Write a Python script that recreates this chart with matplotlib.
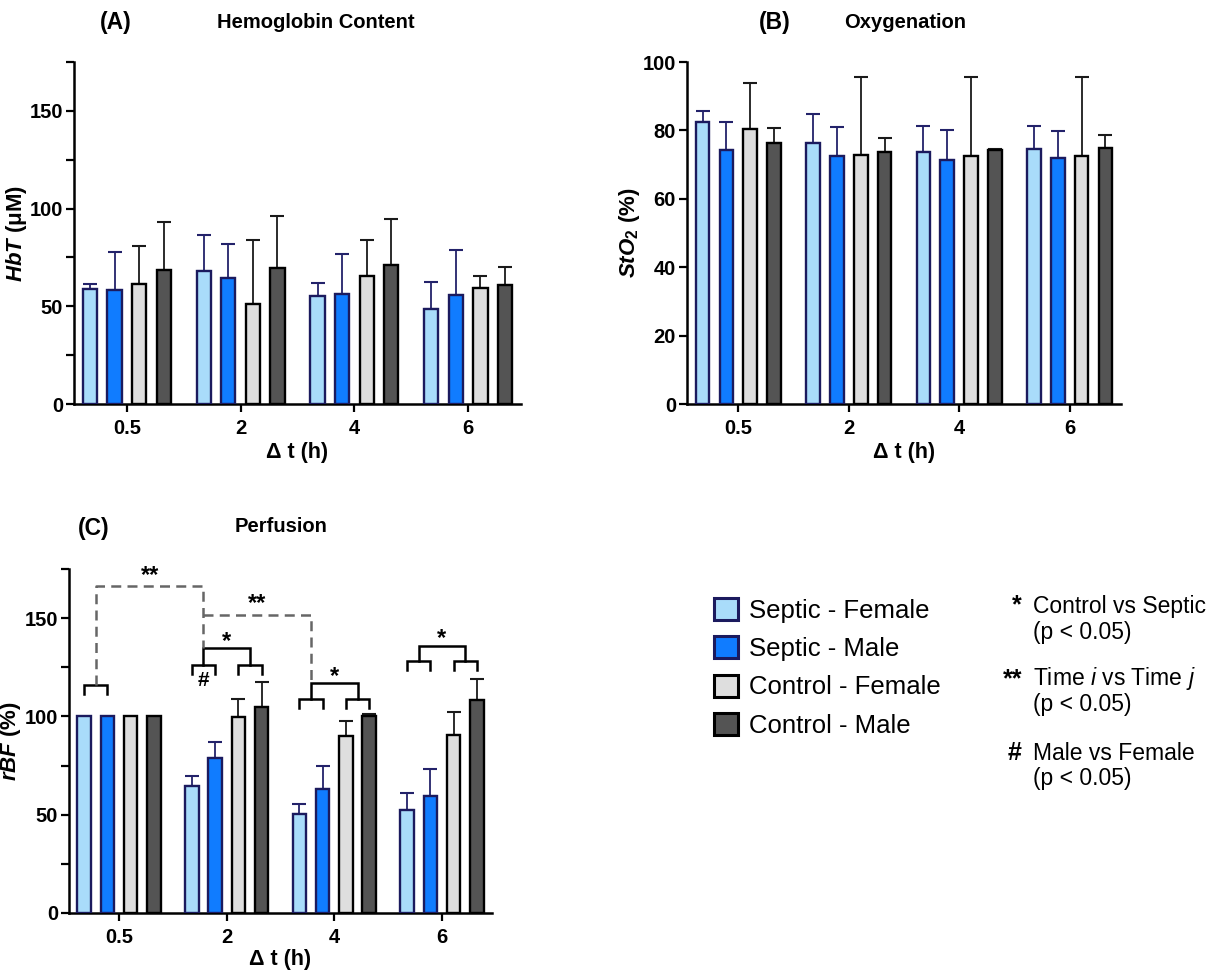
import matplotlib
matplotlib.use("Agg")
import matplotlib.pyplot as plt
from matplotlib.patches import Patch
import numpy as np

# ---------------- data ----------------
timepoints = ["0.5", "2", "4", "6"]
groups = ["Septic - Female", "Septic - Male", "Control - Female", "Control - Male"]

# Panel A: HbT (uM)
hbt_sf = [58.9, 68.3, 55.1, 48.5]
hbt_sm = [58.4, 64.7, 56.5, 55.6]
hbt_cf = [61.3, 51.2, 65.5, 59.2]
hbt_cm = [68.6, 69.8, 71.2, 60.9]
hbt_sf_err = [2.7, 18.2, 7.0, 14.1]
hbt_sm_err = [19.6, 17.0, 20.1, 23.2]
hbt_cf_err = [19.6, 32.8, 18.5, 6.3]
hbt_cm_err = [24.4, 26.6, 23.5, 9.1]

# Panel B: StO2 (%)
sto2_sf = [82.5, 76.4, 73.8, 74.5]
sto2_sm = [74.3, 72.4, 71.4, 72.0]
sto2_cf = [80.5, 72.9, 72.5, 72.6]
sto2_cm = [76.4, 73.8, 74.2, 75.0]
sto2_sf_err = [3.2, 8.3, 7.5, 6.7]
sto2_sm_err = [8.1, 8.5, 8.6, 7.8]
sto2_cf_err = [13.3, 22.8, 23.0, 23.1]
sto2_cm_err = [4.4, 3.9, 0.4, 3.6]

# Panel C: rBF (%)
rbf_sf = [100, 64.7, 50.3, 52.2]
rbf_sm = [100, 78.6, 62.9, 59.3]
rbf_cf = [100, 99.5, 90.2, 90.7]
rbf_cm = [100, 104.9, 100.3, 108.3]
rbf_sf_err = [0, 5.1, 5.1, 8.6]
rbf_sm_err = [0, 8.5, 11.7, 13.9]
rbf_cf_err = [0, 9.3, 7.6, 11.5]
rbf_cm_err = [0, 12.4, 0.9, 10.7]

# ---------------- style ----------------
plt.rcParams['font.family'] = ['Liberation Sans', 'DejaVu Sans']
plt.rcParams['mathtext.fontset'] = 'custom'
plt.rcParams['mathtext.rm'] = 'Liberation Sans'
plt.rcParams['mathtext.it'] = 'Liberation Sans:italic'
plt.rcParams['mathtext.bf'] = 'Liberation Sans:bold:italic'
plt.rcParams['mathtext.sf'] = 'Liberation Sans:bold'

face = ["#A9DCFA", "#107CFF", "#DEDEDE", "#545454"]
edge = ["#1B1A5E", "#1B1A5E", "#000000", "#000000"]
ecol = ["#23226A", "#23226A", "#1a1a1a", "#1a1a1a"]

W, H = 1215, 976
fig = plt.figure(figsize=(W / 100, H / 100), dpi=100)


def rect(l, r, t, b):
    return [l / W, 1 - b / H, (r - l) / W, (b - t) / H]


off = 0.216
bw = 0.125
x = np.arange(len(timepoints))


def draw_panel(ax, vals, errs, ylim, major, minor, ylabel, ylab_x, xlab_y):
    for i in range(4):
        xs = x + (i - 1.5) * off
        ax.bar(xs, vals[i], width=bw, color=face[i], edgecolor=edge[i],
               linewidth=1.7, zorder=3)
        e = np.array(errs[i], dtype=float)
        m = e > 0
        ax.errorbar(xs[m], np.array(vals[i])[m], yerr=[np.zeros(m.sum()), e[m]],
                    fmt='none', ecolor=ecol[i], elinewidth=1.3, capsize=5,
                    capthick=1.5, zorder=2)
    ax.set_xlim(-0.465, 3.465)
    ax.set_ylim(*ylim)
    ax.set_xticks(x)
    ax.set_xticklabels(timepoints)
    ax.set_yticks(major)
    if minor:
        ax.set_yticks(minor, minor=True)
    for s in ['top', 'right']:
        ax.spines[s].set_visible(False)
    for s in ['left', 'bottom']:
        ax.spines[s].set_linewidth(1.8)
    ax.tick_params(axis='both', which='both', width=1.6, length=6,
                   labelsize=14.5, direction='out')
    ax.tick_params(axis='x', pad=5)
    ax.tick_params(axis='y', pad=2)
    for lab in ax.get_xticklabels() + ax.get_yticklabels():
        lab.set_fontweight('bold')
    ax.set_xlabel("Δ t (h)", fontsize=15.5, fontweight='bold')
    ax.xaxis.set_label_coords(0.5, xlab_y)
    ax.set_ylabel(ylabel, fontsize=16, fontweight='bold')
    ax.yaxis.set_label_coords(ylab_x, 0.5)


axA = fig.add_axes(rect(74, 521, 62, 404))
draw_panel(axA, [hbt_sf, hbt_sm, hbt_cf, hbt_cm],
           [hbt_sf_err, hbt_sm_err, hbt_cf_err, hbt_cm_err],
           (0, 175), [0, 50, 100, 150], [25, 75, 125, 175],
           r"$\mathbf{HbT}$ (μM)", -0.1, -0.112)

axB = fig.add_axes(rect(687, 1121, 62, 404))
draw_panel(axB, [sto2_sf, sto2_sm, sto2_cf, sto2_cm],
           [sto2_sf_err, sto2_sm_err, sto2_cf_err, sto2_cm_err],
           (0, 100), [0, 20, 40, 60, 80, 100], None,
           r"$\mathbf{StO}_{\mathsf{2}}$ (%)", -0.104, -0.11)

axC = fig.add_axes(rect(69, 492, 569, 913))
draw_panel(axC, [rbf_sf, rbf_sm, rbf_cf, rbf_cm],
           [rbf_sf_err, rbf_sm_err, rbf_cf_err, rbf_cm_err],
           (0, 175), [0, 50, 100, 150], [25, 75, 125, 175],
           r"$\mathbf{rBF}$ (%)", -0.108, -0.106)

# ---------------- significance annotations (panel C) ----------------
blw = 1.8


def bracket(ax, x1, x2, y, drop):
    ax.plot([x1, x1, x2, x2], [y - drop, y, y, y - drop], color='black',
            lw=blw, solid_joinstyle='miter', clip_on=False, zorder=4)


def bar_x(g, i):
    return g + (i - 1.5) * off


# group 0.5
bracket(axC, bar_x(0, 0), bar_x(0, 1), 116, 4.6)
# group 2
bracket(axC, bar_x(1, 0), bar_x(1, 1), 126.3, 4.8)
bracket(axC, bar_x(1, 2), bar_x(1, 3), 126.3, 4.8)
bracket(axC, 1 - off, 1 + off, 134.7, 8.4)
axC.text(1, 138, "*", ha='center', va='center', fontsize=17, fontweight='bold')
axC.text(1 - off, 118.5, "#", ha='center', va='center', fontsize=15, fontweight='bold')
# group 4
bracket(axC, bar_x(2, 0), bar_x(2, 1), 109, 4.8)
bracket(axC, bar_x(2, 2), bar_x(2, 3), 109, 4.8)
bracket(axC, 2 - off, 2 + off, 117, 8)
axC.text(2, 120.5, "*", ha='center', va='center', fontsize=17, fontweight='bold')
# group 6
bracket(axC, bar_x(3, 0), bar_x(3, 1), 128, 4.6)
bracket(axC, bar_x(3, 2), bar_x(3, 3), 128, 4.6)
bracket(axC, 3 - off, 3 + off, 135.9, 7.9)
axC.text(3, 139.8, "*", ha='center', va='center', fontsize=17, fontweight='bold')

# dashed time comparisons
dcol = "#666666"
axC.plot([-off, -off, 1 - off, 1 - off], [116, 166.6, 166.6, 134.7], color=dcol,
         lw=1.8, ls=(0, (4, 2.5)), clip_on=False, zorder=4)
axC.text((-off + 1 - off) / 2, 171.5, "**", ha='center', va='center',
         fontsize=17, fontweight='bold')
axC.plot([1 - off, 2 - off, 2 - off], [151.7, 151.7, 117], color=dcol,
         lw=1.8, ls=(0, (4, 2.5)), clip_on=False, zorder=4)
axC.text((1 - off + 2 - off) / 2, 157.5, "**", ha='center', va='center',
         fontsize=17, fontweight='bold')

# ---------------- titles ----------------
def ftext(px, py, s, **kw):
    fig.text(px / W, 1 - py / H, s, ha='center', va='center', **kw)


ftext(116, 22, "(A)", fontsize=16.5, fontweight='bold')
ftext(316, 22, "Hemoglobin Content", fontsize=14.5, fontweight='bold')
ftext(775, 22, "(B)", fontsize=16.5, fontweight='bold')
ftext(905, 22, "Oxygenation", fontsize=14.5, fontweight='bold')
ftext(94, 528, "(C)", fontsize=16.5, fontweight='bold')
ftext(281, 527, "Perfusion", fontsize=14.5, fontweight='bold')

# ---------------- legend ----------------
handles = [Patch(facecolor=face[i], edgecolor=edge[i], linewidth=2.2) for i in range(4)]
fig.legend(handles, groups, loc='upper left',
           bbox_to_anchor=(714 / W, 1 - 598 / H), frameon=False,
           fontsize=18.5, handlelength=0.95, handleheight=0.95,
           handletextpad=0.42, labelspacing=0.52, borderaxespad=0, borderpad=0)

# significance key
kx_sym, kx_txt = 1022, 1033
fs_key = 16.5
fig.text(kx_sym / W, 1 - 605 / H, "*", ha='right', va='center', fontsize=18, fontweight='bold')
fig.text(kx_txt / W, 1 - 606 / H, "Control vs Septic", ha='left', va='center', fontsize=fs_key)
fig.text(kx_txt / W, 1 - 633 / H, "(p < 0.05)", ha='left', va='center', fontsize=fs_key)
fig.text(kx_sym / W, 1 - 679 / H, "**", ha='right', va='center', fontsize=18, fontweight='bold')
fig.text(kx_txt / W, 1 - 679 / H, "Time $i$ vs Time $j$", ha='left', va='center', fontsize=fs_key)
fig.text(kx_txt / W, 1 - 705 / H, "(p < 0.05)", ha='left', va='center', fontsize=fs_key)
fig.text(kx_sym / W, 1 - 753 / H, "#", ha='right', va='center', fontsize=18, fontweight='bold')
fig.text(kx_txt / W, 1 - 753 / H, "Male vs Female", ha='left', va='center', fontsize=fs_key)
fig.text(kx_txt / W, 1 - 779 / H, "(p < 0.05)", ha='left', va='center', fontsize=fs_key)

fig.savefig("out.png", dpi=100)
